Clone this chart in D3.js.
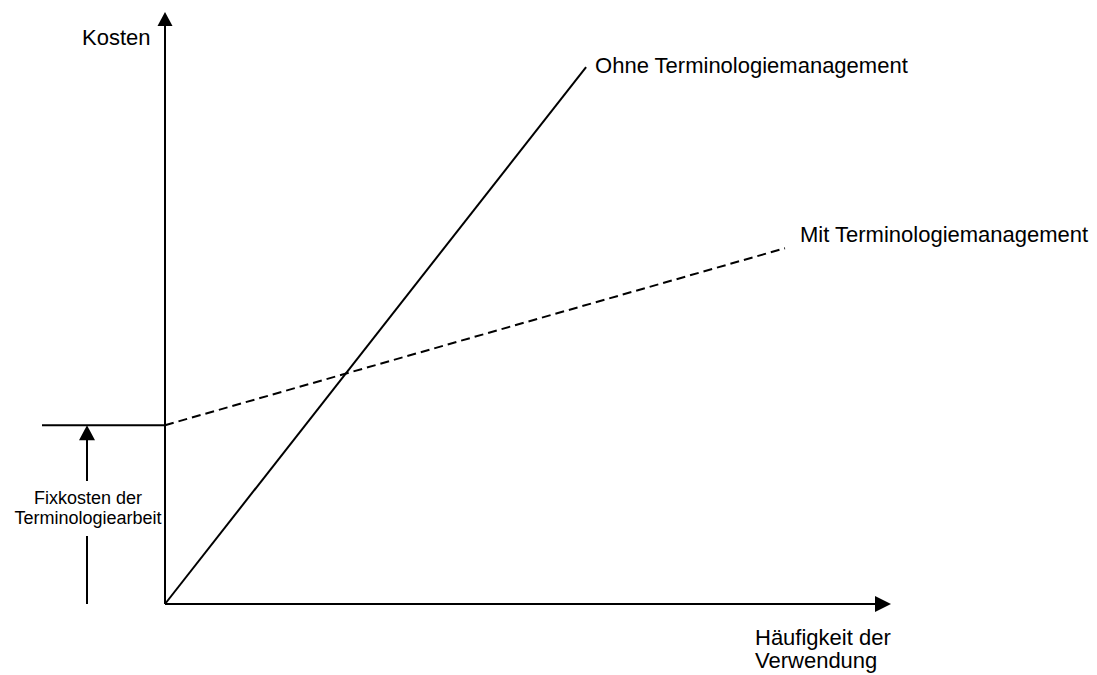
<!DOCTYPE html>
<html>
<head>
<meta charset="utf-8">
<script src="https://cdn.jsdelivr.net/npm/d3@7"></script>
<style>
  body { margin: 0; background: #fff; }
  text { font-family: "Liberation Sans", Arial, sans-serif; fill: #000; }
</style>
</head>
<body>
<script>
// Kostenverlauf mit / ohne Terminologiemanagement (schematisch, ohne Skalenwerte)
const ohneX = [0, 5.8];
const ohneY = [0, 9.07];
const mitX = [0, 8.54];
const mitY = [3.02, 6.01];
const fixkosten = 3.02;

const seriesLabels = ["Ohne Terminologiemanagement", "Mit Terminologiemanagement"];
const yAxisLabel = "Kosten";
const xAxisLabel = ["Häufigkeit der", "Verwendung"];
const fixLabel = ["Fixkosten der", "Terminologiearbeit"];

const width = 1097, height = 675;

const x = d3.scaleLinear().domain([0, 10]).range([165, 891]);
const y = d3.scaleLinear().domain([0, 10]).range([604, 12]);

const svg = d3.select("body")
    .append("svg")
    .attr("width", width)
    .attr("height", height);

// triangle arrow head, tip at (tx, ty), pointing in direction dir
function arrowHead(tx, ty, dir, len, half) {
    const p = d3.path();
    if (dir === "up") {
        p.moveTo(tx, ty); p.lineTo(tx - half, ty + len); p.lineTo(tx + half, ty + len);
    } else {
        p.moveTo(tx, ty); p.lineTo(tx - len, ty - half); p.lineTo(tx - len, ty + half);
    }
    p.closePath();
    return p.toString();
}

// axes
svg.append("line")
    .attr("x1", x(0)).attr("y1", y(0))
    .attr("x2", x(0)).attr("y2", y(10) + 12)
    .attr("stroke", "#000").attr("stroke-width", 2);
svg.append("path")
    .attr("d", arrowHead(x(0), y(10), "up", 14, 7.5))
    .attr("fill", "#000");

svg.append("line")
    .attr("x1", x(0)).attr("y1", y(0))
    .attr("x2", x(10) - 14).attr("y2", y(0))
    .attr("stroke", "#000").attr("stroke-width", 2);
svg.append("path")
    .attr("d", arrowHead(x(10), y(0), "right", 16, 8))
    .attr("fill", "#000");

// lines
const line = d3.line()
    .x(d => x(d[0]))
    .y(d => y(d[1]));

const ohne = d3.zip(ohneX, ohneY);
const mit = d3.zip(mitX, mitY);

svg.append("path")
    .attr("d", line(ohne))
    .attr("fill", "none")
    .attr("stroke", "#000")
    .attr("stroke-width", 2);

svg.append("path")
    .attr("d", line(mit))
    .attr("fill", "none")
    .attr("stroke", "#000")
    .attr("stroke-width", 2)
    .attr("stroke-dasharray", "9,5");

// series labels
svg.append("text")
    .attr("x", x(ohneX[1]) + 9)
    .attr("y", y(ohneY[1]) + 6)
    .style("font-size", "22px")
    .text(seriesLabels[0]);

svg.append("text")
    .attr("x", x(mitX[1]) + 15)
    .attr("y", y(mitY[1]) - 6)
    .style("font-size", "22px")
    .text(seriesLabels[1]);

// axis labels
svg.append("text")
    .attr("x", 82)
    .attr("y", 45)
    .style("font-size", "22px")
    .text(yAxisLabel);

svg.selectAll("text.xlab")
    .data(xAxisLabel)
    .enter()
    .append("text")
    .attr("class", "xlab")
    .attr("x", 755)
    .attr("y", (d, i) => 645 + i * 23)
    .style("font-size", "22px")
    .text(d => d);

// fixed cost marker
const fx = 87;
svg.append("line")
    .attr("x1", 42).attr("y1", y(fixkosten))
    .attr("x2", x(0)).attr("y2", y(fixkosten))
    .attr("stroke", "#000").attr("stroke-width", 2);
svg.append("path")
    .attr("d", arrowHead(fx, y(fixkosten), "up", 15, 8))
    .attr("fill", "#000");
svg.append("line")
    .attr("x1", fx).attr("y1", y(fixkosten) + 14)
    .attr("x2", fx).attr("y2", 481)
    .attr("stroke", "#000").attr("stroke-width", 2);
svg.append("line")
    .attr("x1", fx).attr("y1", 536)
    .attr("x2", fx).attr("y2", y(0))
    .attr("stroke", "#000").attr("stroke-width", 2);

svg.selectAll("text.fix")
    .data(fixLabel)
    .enter()
    .append("text")
    .attr("class", "fix")
    .attr("x", 88)
    .attr("y", (d, i) => 504 + i * 20)
    .attr("text-anchor", "middle")
    .style("font-size", "18px")
    .text(d => d);
</script>
</body>
</html>
